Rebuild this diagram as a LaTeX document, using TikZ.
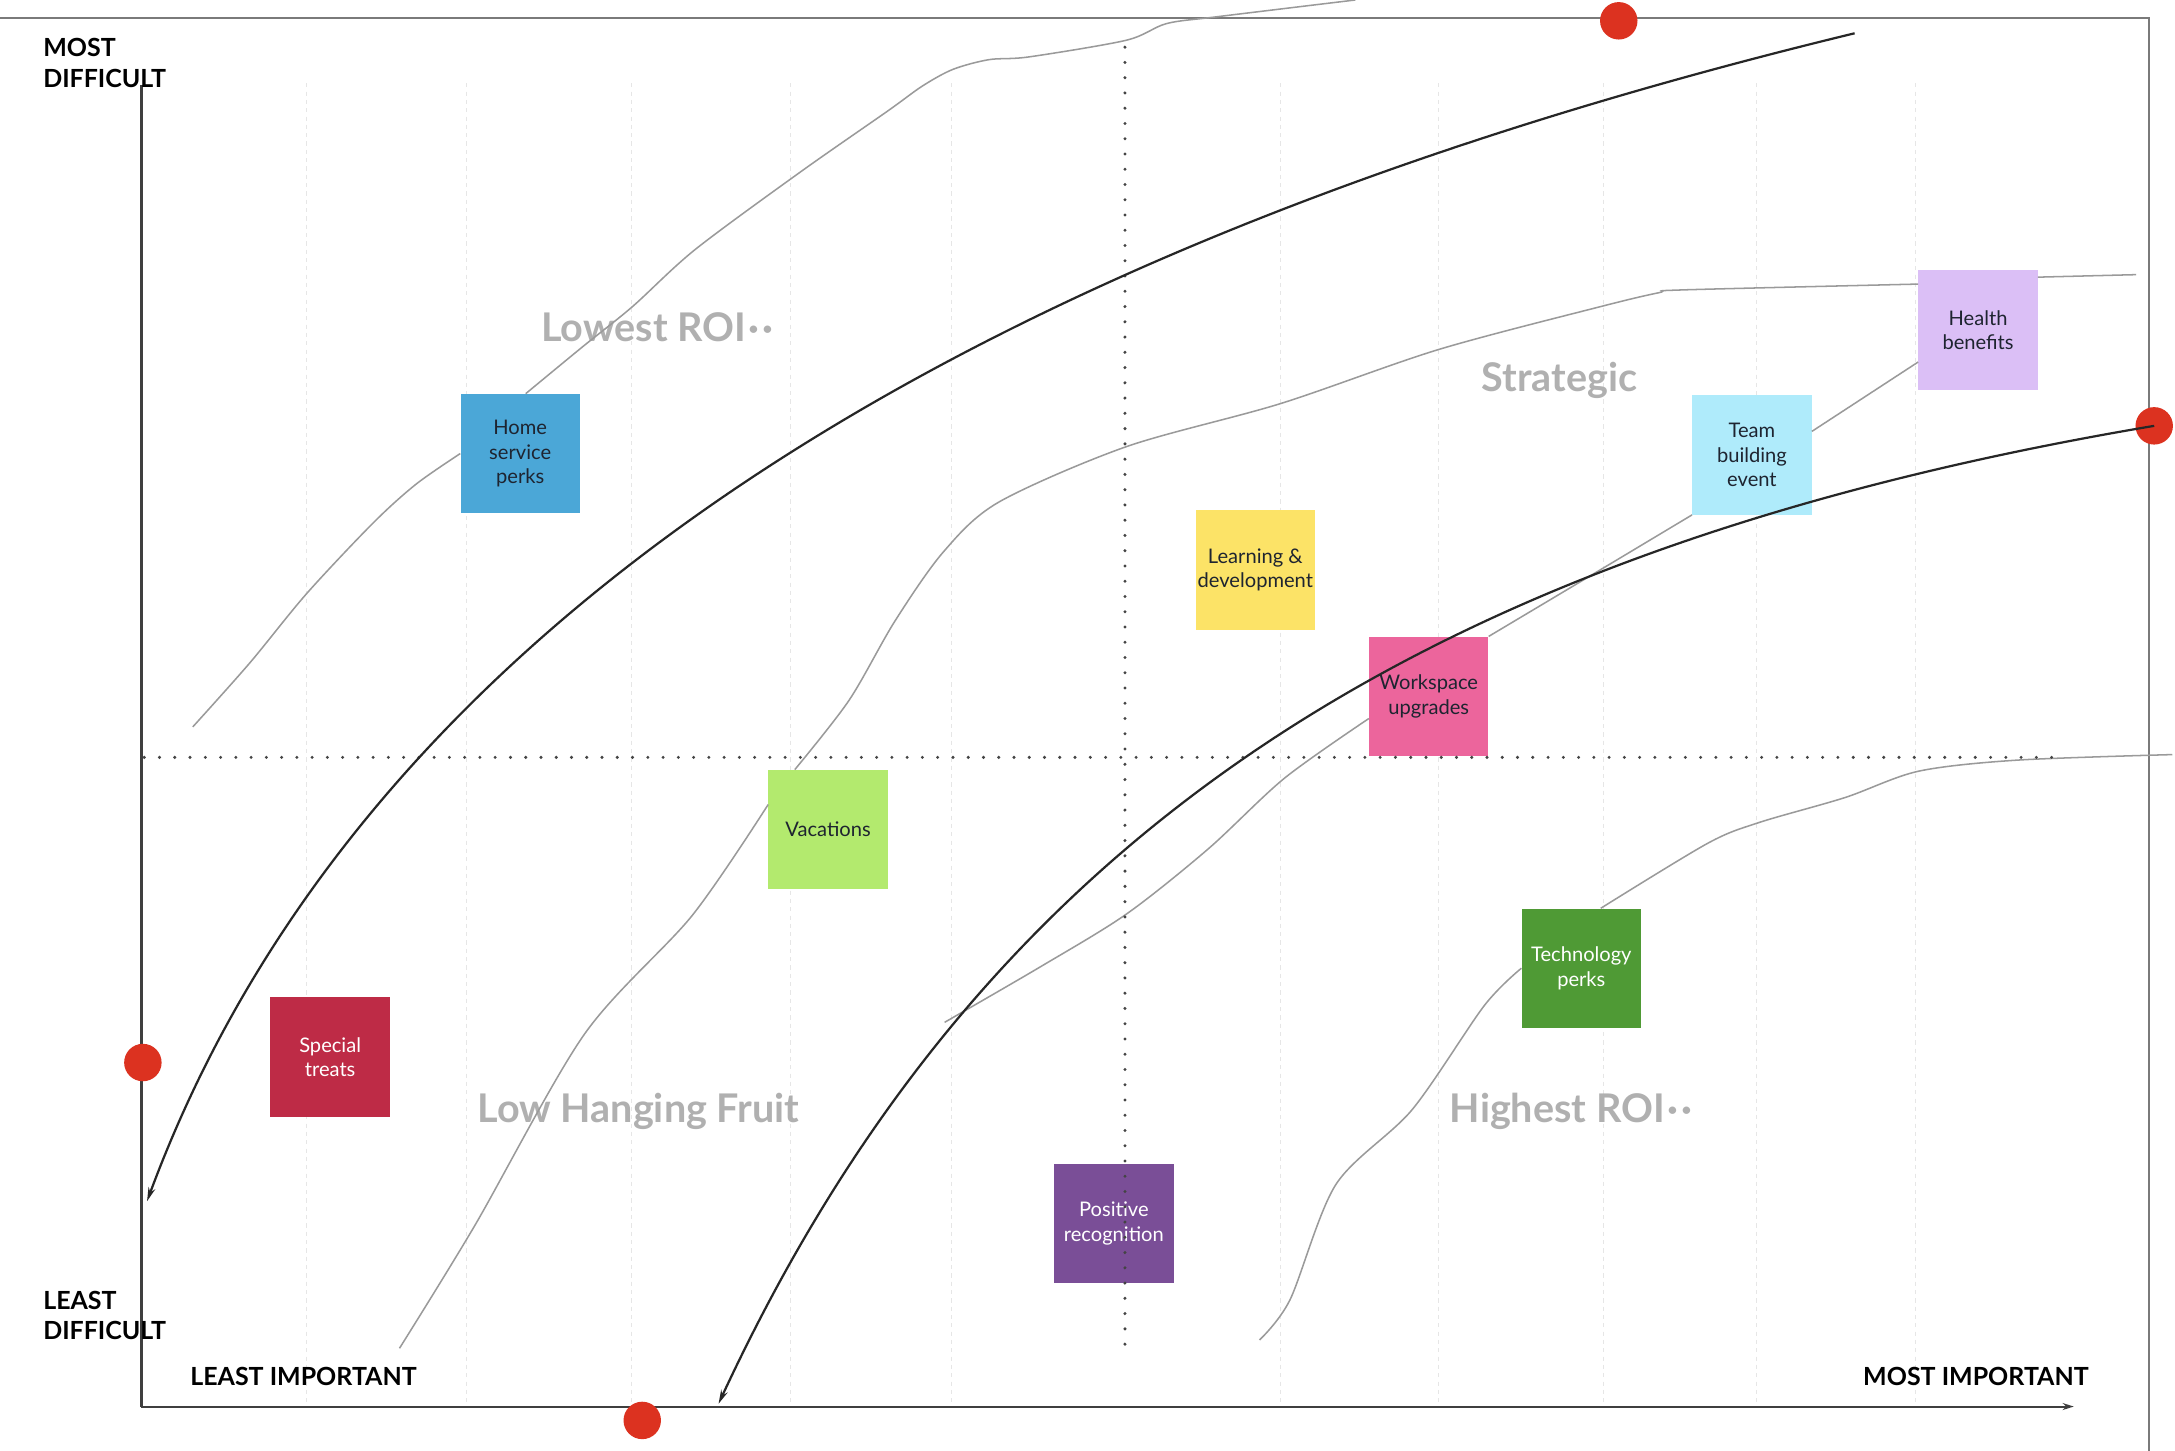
\documentclass[tikz,border=0pt]{standalone}
\usepackage{fontspec}
\setmainfont{Lato}
\usetikzlibrary{arrows.meta}
\definecolor{quadgray}{HTML}{B0B0B0}
\definecolor{dotred}{HTML}{DC3220}
\definecolor{gridgray}{HTML}{E6E6E6}
\definecolor{framegray}{HTML}{7A7A7A}
\definecolor{axisgray}{HTML}{3F3F3F}
\definecolor{dotgray}{HTML}{444444}
\definecolor{curvegray}{HTML}{9A9A9A}
\definecolor{darktext}{HTML}{1E2430}
\definecolor{cHome}{HTML}{4BA7D7}
\definecolor{cSpecial}{HTML}{BE2B46}
\definecolor{cVac}{HTML}{B3EA6E}
\definecolor{cLearn}{HTML}{FCE367}
\definecolor{cWork}{HTML}{EC659C}
\definecolor{cTeam}{HTML}{AFEBFB}
\definecolor{cHealth}{HTML}{DBBFF6}
\definecolor{cTech}{HTML}{4F9A35}
\definecolor{cPos}{HTML}{7A4E97}
\begin{document}
\begin{tikzpicture}[x=1pt,y=-1pt,
  note/.style={minimum width=86pt,minimum height=86pt,inner sep=0pt,align=center,font=\fontsize{14.5}{17.5}\selectfont},
  quad/.style={font=\fontsize{28.5}{32}\selectfont\bfseries,text=quadgray,anchor=base west,inner sep=0pt},
  axlabel/.style={font=\fontsize{18}{21}\selectfont\bfseries,text=black,anchor=base west,inner sep=0pt},
  reddot/.style={circle,fill=dotred,minimum size=27pt,inner sep=0pt},
  gridln/.style={draw=gridgray,line width=0.8pt,dash pattern=on 3pt off 3pt},
  frameln/.style={draw=framegray,line width=1.6pt},
  axisln/.style={draw=axisgray,line width=1.5pt},
  dotln/.style={draw=dotgray,line width=2.4pt,line cap=round,dash pattern=on 0pt off 11pt},
  thincurve/.style={draw=curvegray,line width=1.1pt},
  thickcurve/.style={draw=black!85,line width=1.6pt},
  tip/.style={-{Stealth[length=10pt,width=5pt]}}
]
\useasboundingbox (0,0) rectangle (1568,1046);
\fill[white] (0,0) rectangle (1568,1046);

% light grid
\foreach \gx in {221,336,455,570,686,923,1037,1156,1266,1381}
  \draw[gridln] (\gx,60) -- (\gx,1011);

% frame
\coordinate (frTL) at (0,13);
\coordinate (frTR) at (1549,13);
\coordinate (frBR) at (1549,1046);
\draw[frameln] (frTL) -- (frTR) -- (frBR);

% axes
\coordinate (origin) at (102,1014);
\coordinate (ytop) at (102,61);
\coordinate (xend) at (1495,1014);
\draw[axisln] (origin) -- (ytop);
\draw[axisln,-{Stealth[length=8pt,width=5pt]}] (origin) -- (xend);

% axis labels
\node[axlabel] (mostD1) at (31,41) {MOST};
\node[axlabel] (mostD2) at (31,63) {DIFFICULT};
\node[axlabel] (leastD1) at (31,944) {LEAST};
\node[axlabel] (leastD2) at (31,966) {DIFFICULT};
\node[axlabel] (leastI) at (137,999) {LEAST IMPORTANT};
\node[axlabel,anchor=base east] (mostI) at (1506,999) {MOST IMPORTANT};

% quadrant labels
\node[quad] (qLowest) at (390,246) {Lowest ROI\hspace{2pt}·\hspace{2pt}·};
\node[quad] (qStrat) at (1068,282) {Strategic};
\node[quad] (qLow) at (344,809) {Low Hanging Fruit};
\node[quad] (qHigh) at (1045,809) {Highest ROI\hspace{2pt}·\hspace{2pt}·};

% sticky notes
\node[note,fill=cHome,text=darktext] (home) at (375,327) {Home\\service\\perks};
\node[note,fill=cSpecial,text=white] (special) at (238,762) {Special\\treats};
\node[note,fill=cVac,text=darktext] (vac) at (597,598) {Vacations};
\node[note,fill=cLearn,text=darktext] (learn) at (905,411) {Learning \&\\development};
\node[note,fill=cWork,text=darktext] (work) at (1030,502) {Workspace\\upgrades};
\node[note,fill=cTeam,text=darktext] (team) at (1263,328) {Team\\building\\event};
\node[note,fill=cHealth,text=darktext] (health) at (1426,238) {Health\\benefits};
\node[note,fill=cTech,text=white] (tech) at (1140,698) {Technology\\perks};
\node[note,fill=cPos,text=white] (pos) at (803,882) {Positive\\recognition};

% thin gray curves
\coordinate (caStart) at (139,524);
\coordinate (caEnd) at (977,0);
\draw[thincurve] plot[smooth,tension=0.5] coordinates {(caStart) (180,478) (221,428) (269,377) (300,349) (home.west)};
\draw[thincurve] plot[smooth,tension=0.5] coordinates {([xshift=4pt]home.north) (420,250) (456,221) (501,180) (577,124) (640,80) (665,62) (687,50) (713,43) (742,41) (812,29) (841,17) (878,12) (caEnd)};

\coordinate (cbStart) at (288,972);
\coordinate (cbEnd) at (1540,198);
\draw[thincurve] plot[smooth,tension=0.5] coordinates {(cbStart) (342,884) (421,746) (499,660) ([yshift=18pt]vac.west)};
\draw[thincurve] plot[smooth,tension=0.5] coordinates {([xshift=-24pt]vac.north) (612,505) (645,448) (680,398) (720,362) (812,322) (923,291) (1037,252) (1154,221) (1196,211) (1213,209) ([yshift=-10pt]health.north west)};
\draw[thincurve] ([yshift=-5pt]health.north east) -- (cbEnd);

\coordinate (ccStart) at (681,737);
\draw[thincurve] plot[smooth,tension=0.5] coordinates {(ccStart) (750,697) (812,659) (871,612) (926,561) ([yshift=-16pt]work.west)};
\draw[thincurve] plot[smooth,tension=0.5] coordinates {(work.north east) (1150,413) (team.south west)};
\draw[thincurve] ([yshift=17pt]team.east) -- ([yshift=-23pt]health.west);

\coordinate (cdStart) at (908,966);
\coordinate (cdEnd) at (1566,544);
\draw[thincurve] plot[smooth,tension=0.5] coordinates {(cdStart) (930,937) (963,854) (1018,800) (1070,725) (tech.west)};
\draw[thincurve] plot[smooth,tension=0.5] coordinates {([xshift=14pt]tech.north) (1231,608) (1268,593) (1330,575) (1383,556) (1454,548) (cdEnd)};

% dotted quadrant lines
\coordinate (vdTop) at (811,34);
\coordinate (vdBot) at (811,978);
\coordinate (hdL) at (104,546);
\coordinate (hdR) at (1488,546);
\draw[dotln] (vdTop) -- (vdBot);
\draw[dotln] (hdL) -- (hdR);

% red dots
\node[reddot] (rTop) at (1167,15) {};
\node[reddot] (rRight) at (1553,307) {};
\node[reddot] (rLeft) at (103,766) {};
\node[reddot] (rBottom) at (463,1024) {};

% thick black curves
\coordinate (k1Start) at (1337,24);
\coordinate (k1End) at (106,866);
\draw[thickcurve,tip] (k1Start) .. controls (800,154) and (280,395) .. (k1End);
\coordinate (k2End) at (518,1012);
\draw[thickcurve,tip] (rRight.center) .. controls (1000,400) and (700,620) .. (k2End);
\end{tikzpicture}
\end{document}
